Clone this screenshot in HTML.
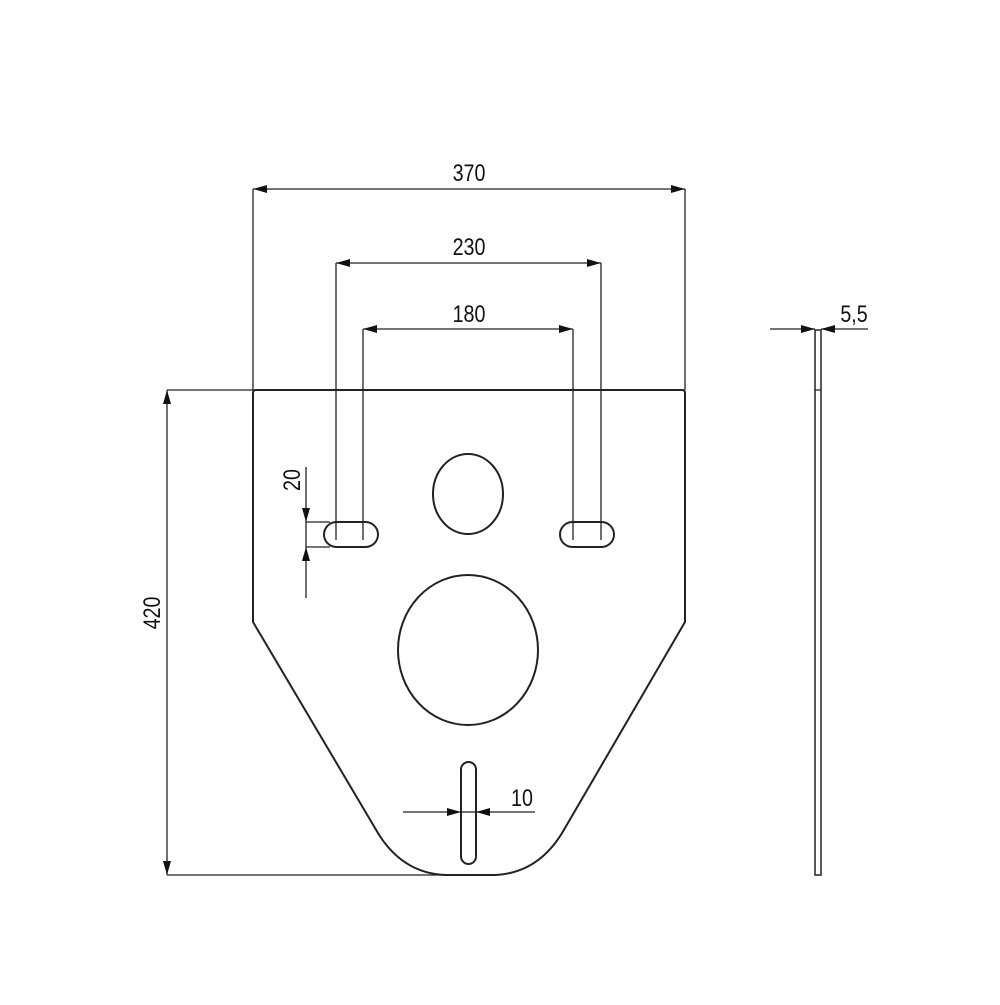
<!DOCTYPE html>
<html><head><style>html,body{margin:0;padding:0;background:#fff}</style></head>
<body>
<svg width="1000" height="1000" viewBox="0 0 1000 1000" xmlns="http://www.w3.org/2000/svg">
<defs>
<marker id="a" viewBox="0 0 14 8" refX="14" refY="4" markerWidth="14" markerHeight="8" markerUnits="userSpaceOnUse" orient="auto"><path d="M0,0 L14,4 L0,8 Z" fill="#111"/></marker>
<marker id="b" viewBox="0 0 14 8" refX="0" refY="4" markerWidth="14" markerHeight="8" markerUnits="userSpaceOnUse" orient="auto"><path d="M14,0 L0,4 L14,8 Z" fill="#111"/></marker>
</defs>
<g fill="none" stroke="#222" stroke-width="1.3">
<path d="M256,390 L682,390 Q685,390 685,393 L685,622 L565,828 Q540,873 495,875 L445,875 Q400,873 375,828 L253,622 L253,393 Q253,390 256,390 Z" stroke-width="2"/>
<ellipse cx="468" cy="494" rx="35" ry="40" stroke-width="2"/>
<ellipse cx="468" cy="650" rx="70" ry="75" stroke-width="2"/>
<rect x="324" y="522" width="54" height="25" rx="12.5" stroke-width="2"/>
<rect x="560" y="522" width="54" height="25" rx="12.5" stroke-width="2"/>
<rect x="461" y="762" width="15" height="102" rx="7.5" stroke-width="2"/>
<line x1="253" y1="189" x2="253" y2="390"/><line x1="685" y1="189" x2="685" y2="390"/>
<line x1="253" y1="189" x2="685" y2="189" marker-start="url(#b)" marker-end="url(#a)"/>
<line x1="336" y1="263" x2="336" y2="540"/><line x1="601" y1="263" x2="601" y2="540"/>
<line x1="336" y1="263" x2="601" y2="263" marker-start="url(#b)" marker-end="url(#a)"/>
<line x1="363" y1="329" x2="363" y2="540"/><line x1="573" y1="329" x2="573" y2="540"/>
<line x1="363" y1="329" x2="573" y2="329" marker-start="url(#b)" marker-end="url(#a)"/>
<line x1="167" y1="390" x2="253" y2="390"/><line x1="167" y1="875" x2="445" y2="875"/>
<line x1="167" y1="390" x2="167" y2="875" marker-start="url(#b)" marker-end="url(#a)"/>
<line x1="306" y1="522" x2="330" y2="522"/><line x1="306" y1="547" x2="330" y2="547"/>
<line x1="306" y1="467" x2="306" y2="522" marker-end="url(#a)"/>
<line x1="306" y1="598" x2="306" y2="547" marker-end="url(#a)"/>
<line x1="306" y1="522" x2="306" y2="547"/>
<line x1="403" y1="812" x2="461" y2="812" marker-end="url(#a)"/>
<line x1="535" y1="812" x2="476" y2="812" marker-end="url(#a)"/>
<line x1="461" y1="812" x2="476" y2="812"/>
<rect x="815" y="330" width="6" height="545" stroke-width="1.5"/>
<line x1="815" y1="390" x2="821" y2="390"/>
<line x1="770" y1="329" x2="815" y2="329" marker-end="url(#a)"/>
<line x1="868" y1="329" x2="821" y2="329" marker-end="url(#a)"/>
</g>
<g font-family="'Liberation Sans',sans-serif" font-size="24" fill="#111" text-anchor="middle">
<text transform="translate(469,181) scale(0.82,1)">370</text>
<text transform="translate(469,255) scale(0.82,1)">230</text>
<text transform="translate(469,322) scale(0.82,1)">180</text>
<text transform="translate(854,322) scale(0.82,1)">5,5</text>
<text transform="translate(522,806) scale(0.82,1)">10</text>
<text transform="translate(160,613) rotate(-90) scale(0.82,1)">420</text>
<text transform="translate(300,480) rotate(-90) scale(0.82,1)">20</text>
</g>
</svg>
</body></html>
